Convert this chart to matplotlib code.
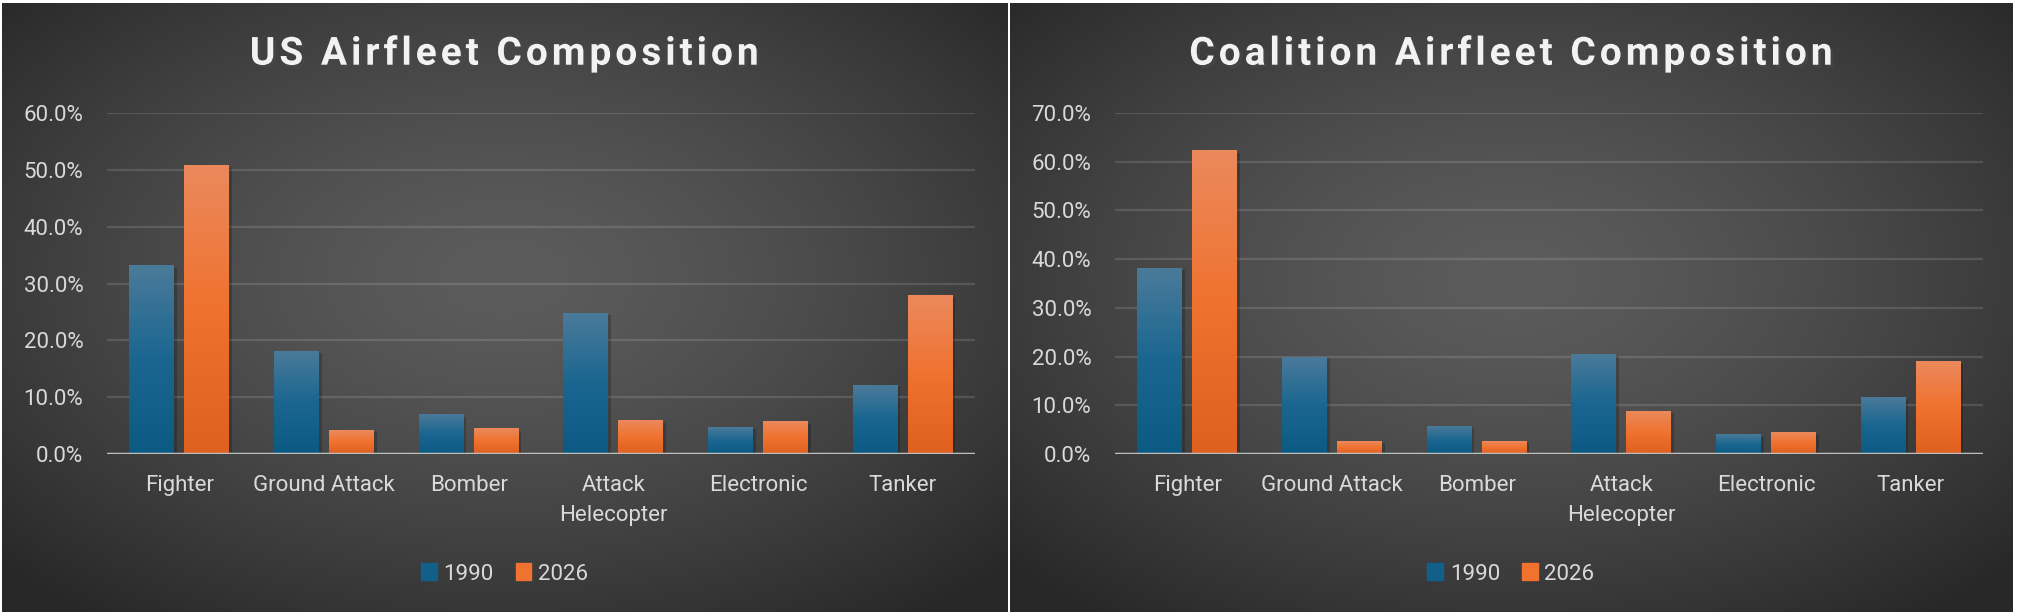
import numpy as np
import matplotlib
matplotlib.use("Agg")
import matplotlib.pyplot as plt
import matplotlib.patheffects as pe
from matplotlib.colors import LinearSegmentedColormap
from matplotlib.ticker import PercentFormatter

plt.rcParams['font.family'] = ['Roboto', 'DejaVu Sans']

# data
categories = ["Fighter", "Ground Attack", "Bomber", "Attack\nHelecopter", "Electronic", "Tanker"]
years = ["1990", "2026"]
us_1990 = [33.1, 18.1, 6.9, 24.8, 4.7, 12.1]
us_2026 = [50.7, 4.2, 4.4, 5.9, 5.7, 27.9]
coal_1990 = [38.1, 19.9, 5.7, 20.5, 4.0, 11.5]
coal_2026 = [62.3, 2.6, 2.6, 8.8, 4.4, 18.9]

W, H = 2019, 616
fig = plt.figure(figsize=(W / 100, H / 100), dpi=100, facecolor="white")

blue_cmap = LinearSegmentedColormap.from_list("b", ["#0c5a84", "#1a6690", "#4a7a9a"])
orange_cmap = LinearSegmentedColormap.from_list("o", ["#e0601f", "#f0722f", "#eb895c"])
label_col = "#d9d9d9"


def px_axes(x, y_top, w, h):
    # pixel box measured from the top-left of the image
    return fig.add_axes([x / W, (H - y_top - h) / H, w / W, h / H])


def background(x, y_top, w, h):
    bg = px_axes(x, y_top, w, h)
    yy, xx = np.mgrid[-1:1:300j, -1:1:500j]
    r = np.clip(np.sqrt(xx ** 2 + (yy + 0.1) ** 2) / 1.4, 0, 1) ** 1.4
    c0, c1 = np.array([0x5c, 0x5c, 0x5c]) / 255, np.array([0x27, 0x27, 0x27]) / 255
    img = c0 * (1 - r[..., None]) + c1 * r[..., None]
    bg.imshow(img, extent=(0, 1, 0, 1), aspect="auto", interpolation="bilinear")
    bg.set_axis_off()
    return bg


def panel(px, pw, title, v1990, v2026, ymax):
    background(px + 2, 3, pw, 609)
    ax = px_axes(px + 107, 113, 868, 341)
    ax.set_facecolor("none")
    x = np.arange(len(categories))
    off, bw = 0.19, 0.31
    for vals, cmap, sign in [(v1990, blue_cmap, -1), (v2026, orange_cmap, 1)]:
        bars = ax.bar(x + sign * off, np.array(vals) / 100, width=bw, color=cmap(0.0),
                      zorder=3)
        for b in bars:
            b.set_path_effects([pe.SimplePatchShadow(offset=(2, -1.5), shadow_rgbFace="black",
                                                     alpha=0.2), pe.Normal()])
            grad = np.linspace(0, 1, 100)[:, None]
            ax.imshow(grad, cmap=cmap, origin="lower", aspect="auto",
                      extent=(b.get_x(), b.get_x() + b.get_width(), 0, b.get_height()),
                      zorder=4)
    ax.set_xlim(-0.5, len(categories) - 0.5)
    ax.set_ylim(0, ymax / 100)
    ax.set_yticks(np.arange(0, ymax + 1, 10) / 100)
    ax.yaxis.set_major_formatter(PercentFormatter(1.0, decimals=1))
    ax.grid(axis="y", color="white", alpha=0.13, lw=1.6, zorder=1)
    ax.axhline(0, color="#bdbdbd", lw=2.5, zorder=5)
    for s in ax.spines.values():
        s.set_visible(False)
    ax.tick_params(length=0, labelsize=16, labelcolor=label_col)
    ax.tick_params(axis="y", pad=17)
    ax.tick_params(axis="x", pad=15)
    ax.set_xticks(x)
    ax.set_xticklabels(categories, linespacing=1.55)

    spaced = "\u200a".join(title)
    fig.text((px + 2 + pw / 2) / W, (H - 54) / H, spaced,
             ha="center", va="center", color="#f2f2f2", fontsize=28,
             fontweight="bold", family=["Roboto", "DejaVu Sans"],
             path_effects=[pe.withSimplePatchShadow(offset=(2, -2), alpha=0.6)])

    handles = [plt.Rectangle((0, 0), 1, 1, color=blue_cmap(0.2)),
               plt.Rectangle((0, 0), 1, 1, color=orange_cmap(0.5))]
    fig.legend(handles, years, loc="center",
               bbox_to_anchor=((px + 2 + pw / 2) / W, 42 / H), ncol=2, frameon=False,
               fontsize=16, labelcolor=label_col, handlelength=0.7, handleheight=0.8,
               handletextpad=0.3, columnspacing=1.0)


panel(0, 1005, "US Airfleet Composition", us_1990, us_2026, 60)
panel(1008, 1002, "Coalition Airfleet Composition", coal_1990, coal_2026, 70)

fig.savefig("out.png", dpi=100, facecolor="white")
